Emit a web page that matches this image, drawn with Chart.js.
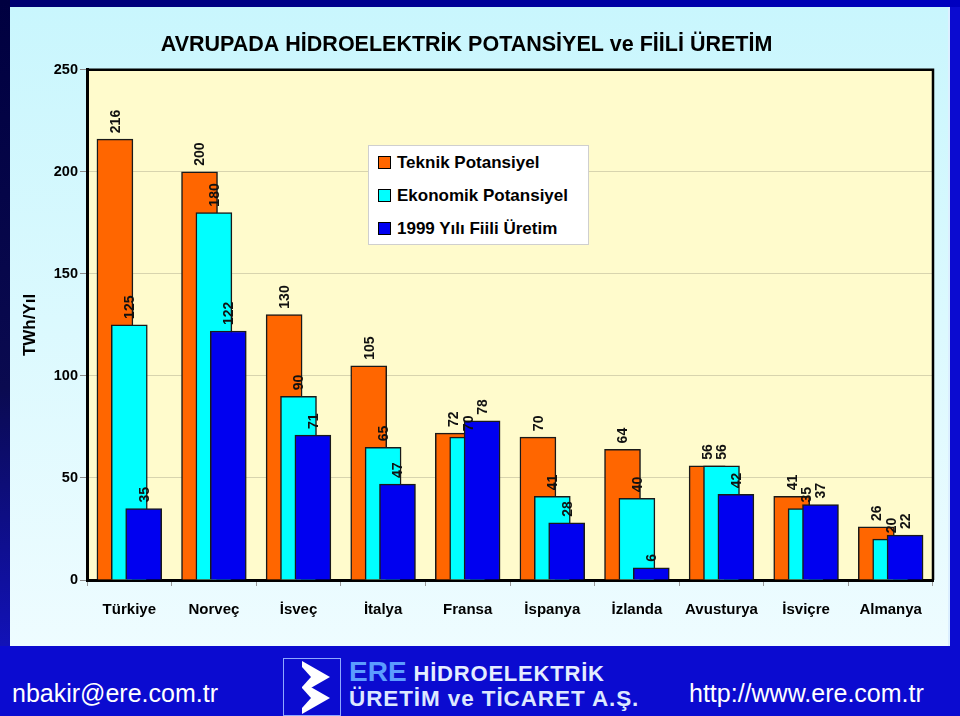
<!DOCTYPE html>
<html>
<head>
<meta charset="utf-8">
<script src="https://cdn.jsdelivr.net/npm/chart.js@4.4.1/dist/chart.umd.min.js"></script>
<style>
body{margin:0;width:960px;height:716px;overflow:hidden;position:relative;background:#0b0bd0;font-family:"Liberation Sans",Arial,sans-serif}
#topbar{position:absolute;left:0;top:0;width:960px;height:7px;background:linear-gradient(90deg,#000070,#0000c0)}
#leftbar{position:absolute;left:0;top:0;width:10px;height:646px;background:linear-gradient(#000040,#0a0a50 60%,#1212b8)}
#panel{position:absolute;left:10px;top:7px;width:938px;height:639px;background:linear-gradient(#c9f6fd,#eefcff);border-right:2px solid #dcefff}
#chartBox{position:absolute;left:0;top:0;width:960px;height:645px}
#legend{position:absolute;left:368px;top:145px;width:221px;height:100px;background:#fff;border:1px solid #cfcfcf;box-sizing:border-box}
.item{position:absolute;left:9px;height:20px;line-height:20px;font-weight:bold;font-size:17px;color:#000;white-space:nowrap}
.item span{display:inline-block;width:11px;height:11px;border:1px solid #000;margin-right:6px;vertical-align:-1px}
#footer{position:absolute;left:0;top:646px;width:960px;height:70px;color:#fff}
#mail{position:absolute;left:12px;top:33px;font-size:25px}
#web{position:absolute;left:689px;top:33px;font-size:25px}
#logo{position:absolute;left:283px;top:12px}
#firm1{position:absolute;left:349px;top:10px;font-weight:bold;font-size:22px;color:#e4eeff;white-space:nowrap;letter-spacing:0.8px}
#firm1 b{font-size:28px;color:#5c9cff;letter-spacing:0}
#firm2{position:absolute;left:349px;top:40px;font-weight:bold;font-size:22.5px;color:#dce8ff;white-space:nowrap;letter-spacing:0.9px}
</style>
</head>
<body>
<div id="topbar"></div>
<div id="leftbar"></div>
<div id="panel"></div>
<div id="chartBox"><canvas id="hydroChart"></canvas></div>
<div id="legend"></div>
<div id="footer">
  <div id="mail">nbakir@ere.com.tr</div>
  <svg id="logo" width="58" height="58" viewBox="0 0 58 58">
    <rect x="0.5" y="0.5" width="57" height="57" fill="#0b0bd0" stroke="#8fa8ff"/>
    <polygon points="19,3 47,19 19,35" fill="#fff"/>
    <polygon points="19,24 47,40 19,56" fill="#fff"/>
    <polygon points="19,9 28,19 19,29" fill="#0b0bd0"/>
    <polygon points="19,30 28,40 19,50" fill="#0b0bd0"/>
  </svg>
  <div id="firm1"><b>ERE</b> HİDROELEKTRİK</div>
  <div id="firm2">ÜRETİM ve TİCARET A.Ş.</div>
  <div id="web">http://www.ere.com.tr</div>
</div>

<script>
// ===========================
// DATA
// ===========================
const categories = ["Türkiye","Norveç","İsveç","İtalya","Fransa","İspanya","İzlanda","Avusturya","İsviçre","Almanya"];
const teknik   = [216,200,130,105,72,70,64,56,41,26];
const ekonomik = [125,180,90,65,70,41,40,56,35,20];
const fiili    = [35,122,71,47,78,28,6,42,37,22];
const seriesNames  = ["Teknik Potansiyel","Ekonomik Potansiyel","1999 Yılı Fiili Üretim"];
const seriesColors = ["#ff6600","#00ffff","#0000f0"];
const yTicks = [0,50,100,150,200,250];

const SANS = "'Liberation Sans',Arial,sans-serif";

// bars overlap: each series shifted a bit to the right of the previous one
const barStep = 0.17;
const series = [teknik, ekonomik, fiili];

const datasets = series.map((values, k) => ({
    label: seriesNames[k],
    data: values.map((v, i) => ({x: i + (k - 1) * barStep, y: v})),
    backgroundColor: seriesColors[k],
    borderColor: "#1a1a1a",
    borderWidth: 1.5,
    barThickness: 36,
    grouped: false,
    order: 3 - k
}));

// Legend (html)
const legend = document.getElementById("legend");
seriesNames.forEach((name, k) => {
    const row = document.createElement("div");
    row.className = "item";
    row.style.top = (7 + k * 33) + "px";
    row.innerHTML = '<span style="background:' + seriesColors[k] + '"></span>' + name;
    legend.appendChild(row);
});

// plot background + frame
const plotFrame = {
    id: "plotFrame",
    beforeDraw(chart){
        const {ctx, chartArea: a} = chart;
        ctx.save();
        ctx.fillStyle = "#fffbcc";
        ctx.fillRect(a.left, a.top, a.width, a.height);
        ctx.restore();
    },
    afterDraw(chart){
        const {ctx, chartArea: a} = chart;
        ctx.save();
        ctx.strokeStyle = "#000";
        ctx.lineWidth = 2.5;
        ctx.beginPath();
        ctx.moveTo(a.left, a.top);
        ctx.lineTo(a.right, a.top);
        ctx.lineTo(a.right, a.bottom);
        ctx.stroke();
        ctx.restore();
    }
};

// value labels, rotated
const barLabels = {
    id: "barLabels",
    afterDatasetsDraw(chart){
        const ctx = chart.ctx;
        ctx.save();
        ctx.font = "bold 14px " + SANS;
        ctx.fillStyle = "#111";
        ctx.textAlign = "left";
        ctx.textBaseline = "middle";
        chart.data.datasets.forEach((ds, k) => {
            chart.getDatasetMeta(k).data.forEach((bar, i) => {
                ctx.save();
                ctx.translate(bar.x + 1, bar.y - 6);
                ctx.rotate(-Math.PI / 2);
                ctx.fillText(String(ds.data[i].y), 0, 0);
                ctx.restore();
            });
        });
        ctx.restore();
    }
};

new Chart(document.getElementById("hydroChart"), {
    type: "bar",
    data: { datasets: datasets },
    options: {
        responsive: true,
        maintainAspectRatio: false,
        animation: false,
        layout: { padding: { left: 0, right: 27, top: 0, bottom: 0 } },
        plugins: {
            legend: { display: false },
            tooltip: { enabled: false },
            title: {
                display: true,
                text: "AVRUPADA HİDROELEKTRİK POTANSİYEL ve FİİLİ ÜRETİM",
                color: "#000",
                font: { family: SANS, size: 21.5, weight: "bold" },
                padding: { top: 32, bottom: 12 }
            }
        },
        scales: {
            x: { type: "linear", display: false, offset: false, min: -0.5, max: 9.5 },
            xc: {
                type: "category",
                labels: categories,
                position: "bottom",
                offset: true,
                grid: { drawOnChartArea: false, offset: true, tickLength: 6, tickColor: "#9a9a9a" },
                border: { color: "#000", width: 3 },
                ticks: { color: "#000", padding: 15, maxRotation: 0, autoSkip: false,
                         font: { family: SANS, size: 15, weight: "bold" } },
                afterFit(scale){ scale.height = 65; }
            },
            y: {
                min: 0,
                max: 250,
                afterBuildTicks(scale){ scale.ticks = yTicks.map(v => ({value: v})); },
                grid: { color: "#d8d4ae", tickLength: 7, tickColor: "#8a8a8a" },
                border: { color: "#000", width: 3 },
                ticks: { color: "#000", padding: 2, font: { family: SANS, size: 14.5, weight: "bold" } },
                title: {
                    display: true,
                    text: "TWh/Yıl",
                    color: "#000",
                    font: { family: SANS, size: 17, weight: "bold" },
                    padding: { top: 20, bottom: 0 }
                },
                afterFit(scale){ scale.width = 87; }
            }
        }
    },
    plugins: [plotFrame, barLabels]
});
</script>
</body>
</html>
